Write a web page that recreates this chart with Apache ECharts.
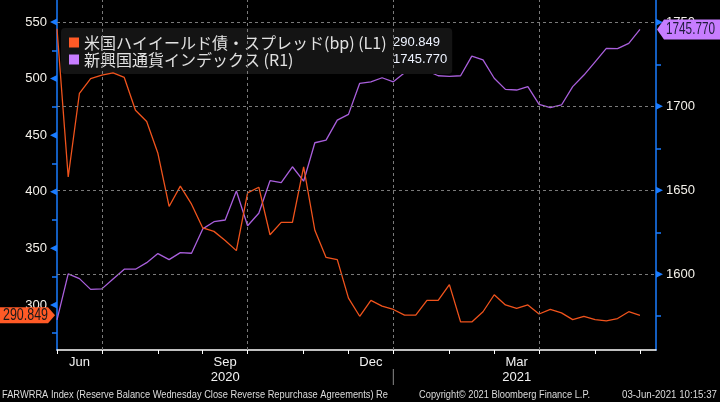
<!DOCTYPE html>
<html><head><meta charset="utf-8">
<script src="https://cdn.jsdelivr.net/npm/echarts@6.0.0/dist/echarts.min.js"></script>
<style>html,body{margin:0;padding:0;background:#000;}#c{width:720px;height:402px;}</style>
</head><body><div id="c"></div>
<script>
// Weekly observations, Jun 2020 - Jun 2021 (index = week number)
const hyName = '米国ハイイールド債・スプレッド(bp) (L1)';
const emName = '新興国通貨インデックス (R1)';
const hySpread = [544, 413, 487, 500, 503, 505, 501, 472, 462, 434, 387, 405, 389, 368, 365, 357, 348, 399, 404, 362, 373, 373, 422, 366, 342, 340, 306, 290, 304, 299, 296, 291, 291, 304, 304, 318, 285, 285, 294, 309, 300, 297, 300, 292, 296, 293, 287, 290, 287, 286, 288, 294, 290.849];
const emCurrency = [1572.8, 1600.2, 1597.4, 1591.0, 1591.3, 1597.2, 1603.0, 1603.0, 1606.9, 1612.3, 1608.7, 1612.9, 1612.5, 1627.0, 1631.3, 1632.3, 1649.6, 1628.9, 1636.3, 1655.7, 1654.5, 1664.0, 1655.4, 1678.3, 1679.9, 1691.8, 1695.2, 1713.7, 1714.6, 1717.0, 1714.6, 1720.0, 1721.2, 1721.2, 1718.2, 1717.8, 1718.2, 1729.9, 1727.6, 1716.7, 1710.1, 1709.7, 1711.7, 1701.2, 1699.2, 1700.8, 1711.7, 1718.6, 1726.5, 1734.5, 1734.3, 1737.5, 1745.77];

// x axis: week indices of month starts, quarter starts, label positions
const monthStartWeek = [0, 4, 9, 13, 17, 22, 26, 30, 35, 39, 43, 48, 52];
const quarterStartWeek = [4, 17, 30, 43];
const xLabelWeeks = [2, 15, 28, 41];
const xLabelTexts = ['Jun', 'Sep', 'Dec', 'Mar'];
const xYearTexts = ['', '2020', '', '2021'];
const yearBreakWeek = 30;

// y axes ticks
const leftMajor = [300, 350, 400, 450, 500, 550];
const leftMinor = [275, 325, 375, 425, 475, 525];
const rightMajor = [1600, 1650, 1700, 1750];
const rightMinor = [1575, 1625, 1675, 1725];

const footLeft = 'FARWRRA Index (Reserve Balance Wednesday Close Reverse Repurchase Agreements) Re';
const footMid = 'Copyright© 2021 Bloomberg Finance L.P.';
const footRight = '03-Jun-2021 10:15:37';

const ORANGE = '#f0531c', PURPLE = '#a95fdc', BLUE = '#1a7cff';
const NUMFONT = 'Liberation Sans, Arial, sans-serif';

const chart = echarts.init(document.getElementById('c'), null, {renderer: 'canvas'});
const hyLast = hySpread[hySpread.length - 1];
const emLast = emCurrency[emCurrency.length - 1];
const legendValues = {};
legendValues[hyName] = hyLast.toFixed(3);
legendValues[emName] = emLast.toFixed(3);

const option = {
  backgroundColor: '#000',
  animation: false,
  grid: {left: 57, right: 64, top: 0, bottom: 52},
  legend: {
    orient: 'vertical', left: 61, top: 28, padding: [6, 5, 6, 8], itemGap: 0,
    itemWidth: 10, itemHeight: 10, icon: 'rect', selectedMode: false,
    backgroundColor: '#141414', borderRadius: 4,
    data: [{name: hyName, itemStyle: {color: '#ff5a26'}}, {name: emName, itemStyle: {color: '#c77dff'}}],
    formatter: n => '{n|' + n + '}{v|' + legendValues[n] + '}',
    textStyle: {
      color: '#e6e6e6', fontSize: 16, lineHeight: 17, fontFamily: 'Noto Sans CJK JP',
      rich: {
        n: {width: 309, fontSize: 16, lineHeight: 17, fontFamily: 'Noto Sans CJK JP', color: '#e2e2e2'},
        v: {fontSize: 13, lineHeight: 17, fontFamily: NUMFONT, color: '#eef3ff'}
      }
    }
  },
  xAxis: {
    type: 'value', min: 0, max: 53.43,
    axisLine: {show: true, lineStyle: {color: '#ffffff', width: 1.5}},
    axisTick: {show: true, customValues: monthStartWeek, length: 4, lineStyle: {color: '#ffffff', width: 1}},
    axisLabel: {
      customValues: xLabelWeeks, margin: 5, color: '#f2f2f2', fontSize: 13, lineHeight: 15, fontFamily: NUMFONT,
      formatter: v => {
        const i = xLabelWeeks.indexOf(Math.round(v));
        if (i < 0) return '';
        return xYearTexts[i] ? xLabelTexts[i] + '\n' + xYearTexts[i] : xLabelTexts[i];
      }
    },
    splitLine: {show: false}
  },
  yAxis: [
    {
      type: 'value', position: 'left', min: 260.2, max: 569.4,
      axisLine: {show: true, lineStyle: {color: BLUE, width: 1.5}},
      axisTick: {show: true, customValues: leftMinor, length: 5, lineStyle: {color: BLUE, width: 1.5}},
      axisLabel: {customValues: leftMajor, margin: 10, color: '#f4f1ea', fontSize: 13, fontFamily: NUMFONT, formatter: v => String(v)},
      splitLine: {show: false}
    },
    {
      type: 'value', position: 'right', min: 1554.9, max: 1763.3,
      axisLine: {show: true, lineStyle: {color: BLUE, width: 1.5}},
      axisTick: {show: true, customValues: rightMinor, length: 5, lineStyle: {color: BLUE, width: 1.5}},
      axisLabel: {customValues: rightMajor, margin: 10, color: '#f4f1ea', fontSize: 13, fontFamily: NUMFONT, formatter: v => String(v)},
      splitLine: {show: false}
    }
  ],
  series: [
    {
      name: emName, type: 'line', yAxisIndex: 1, symbol: 'none', z: 3,
      lineStyle: {color: PURPLE, width: 1.3}, itemStyle: {color: PURPLE},
      data: emCurrency.map((v, i) => [i, v]),
      markLine: {
        silent: true, symbol: 'none', label: {show: false}, animation: false,
        lineStyle: {color: '#7a7a7a', type: [3, 3], width: 1},
        data: quarterStartWeek.map(w => ({xAxis: w})).concat(rightMajor.map(v => ({yAxis: v})))
      }
    },
    {
      name: hyName, type: 'line', yAxisIndex: 0, symbol: 'none', z: 4,
      lineStyle: {color: ORANGE, width: 1.3}, itemStyle: {color: ORANGE},
      data: hySpread.map((v, i) => [i, v])
    }
  ]
};
chart.setOption(option);

// text fitted horizontally (condensed look)
const mctx = document.createElement('canvas').getContext('2d');
function fitText(text, x, y, font, width, fill, z) {
  mctx.font = font;
  const s = width / mctx.measureText(text).width;
  return {type: 'text', z: z, x: x, y: y, scaleX: s, originX: x, style: {text: text, fill: fill, font: font, textVerticalAlign: 'middle'}};
}

// decorations placed from the axes' own scales
const g = [];
leftMajor.forEach(v => {
  const y = chart.convertToPixel({yAxisIndex: 0}, v);
  g.push({type: 'polygon', z: 10, shape: {points: [[57, y - 3.5], [57, y + 3.5], [50, y]]}, style: {fill: BLUE}});
});
rightMajor.forEach(v => {
  const y = chart.convertToPixel({yAxisIndex: 1}, v);
  g.push({type: 'polygon', z: 10, shape: {points: [[656, y - 3.5], [656, y + 3.5], [663, y]]}, style: {fill: BLUE}});
});
const yL = chart.convertToPixel({yAxisIndex: 0}, hyLast);
g.push({type: 'polygon', z: 20, shape: {points: [[0, yL - 8], [48, yL - 8], [55, yL], [48, yL + 8], [0, yL + 8]]}, style: {fill: '#ff5a26'}});
g.push({type: 'group', z: 21, x: 3, y: yL, scaleX: 1, children: [fitText(hyLast.toFixed(3), 0, 0, '16px ' + NUMFONT, 45, '#1a1a1a', 21)]});
const yR = chart.convertToPixel({yAxisIndex: 1}, emLast);
g.push({type: 'polygon', z: 20, shape: {points: [[657, yR], [664, yR - 10], [720, yR - 10], [720, yR + 10], [664, yR + 10]]}, style: {fill: '#c77dff'}});
g.push({type: 'group', z: 21, x: 666, y: yR, children: [fitText(emLast.toFixed(3), 0, 0, '16px ' + NUMFONT, 49, '#1d1a3a', 21)]});
const xB = chart.convertToPixel({xAxisIndex: 0}, yearBreakWeek);
g.push({type: 'line', z: 5, shape: {x1: xB, y1: 369, x2: xB, y2: 385}, style: {stroke: '#8a8a8a', lineWidth: 1}});
const FF = '11px ' + NUMFONT;
g.push({type: 'group', x: 2, y: 395, children: [fitText(footLeft, 0, 0, FF, 386, '#dcdcdc', 5)]});
g.push({type: 'group', x: 419, y: 395, children: [fitText(footMid, 0, 0, FF, 171, '#dcdcdc', 5)]});
g.push({type: 'group', x: 622, y: 395, children: [fitText(footRight, 0, 0, FF, 95, '#dcdcdc', 5)]});
chart.setOption({graphic: g});
</script>
</body></html>
